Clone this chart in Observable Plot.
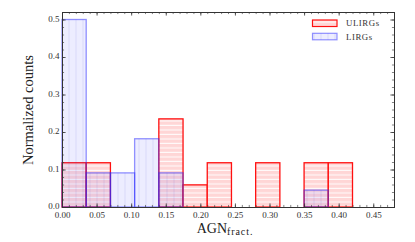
<!DOCTYPE html>
<html><head><meta charset="utf-8">
<script src="https://cdn.jsdelivr.net/npm/d3@7"></script>
<script src="https://cdn.jsdelivr.net/npm/@observablehq/plot@0.6"></script>
<style>
html,body{margin:0;padding:0;background:#fff;}
svg{display:block;}
</style></head><body><div id="chart"></div>
<script>
// Data
const binEdges = [0.000, 0.035, 0.070, 0.105, 0.140, 0.175, 0.210, 0.245, 0.280, 0.315, 0.350, 0.385, 0.420];
const ulirgs = [0.118, 0.118, 0, 0, 0.235, 0.059, 0.118, 0, 0.118, 0, 0.118, 0.118];
const lirgs  = [0.500, 0.091, 0.091, 0.182, 0.091, 0, 0, 0, 0, 0, 0.045, 0];
const seriesNames = ["ULIRGs", "LIRGs"];
const xTicks = [0.00, 0.05, 0.10, 0.15, 0.20, 0.25, 0.30, 0.35, 0.40, 0.45];
const xTickLabels = ["0.00", "0.05", "0.10", "0.15", "0.20", "0.25", "0.30", "0.35", "0.40", "0.45"];
const yTicks = [0.0, 0.1, 0.2, 0.3, 0.4, 0.5];
const yTickLabels = ["0.0", "0.1", "0.2", "0.3", "0.4", "0.5"];
const xLabel = "AGN", xLabelSub = "fract.";
const yLabel = "Normalized counts";

const xDomain = [0, 0.48], yDomain = [0, 0.52];
const xMinor = d3.range(0, 0.4801, 0.01);
const yMinor = d3.range(0, 0.5201, 0.02);

const toBars = (vals, name) => vals.map((v, i) => ({series: name, x1: binEdges[i], x2: binEdges[i + 1], y: v})).filter(d => d.y > 0);
const uBars = toBars(ulirgs, seriesNames[0]);
const lBars = toBars(lirgs, seriesNames[1]);

const tickColor = "#333";
const xMajLen = 0.0052, xMinLen = 0.003;
const yMajLenU = 0.0095, yMinLenU = 0.0055;

const chart = Plot.plot({
  width: 415, height: 242,
  marginLeft: 62, marginRight: 21, marginTop: 12, marginBottom: 35,
  x: {domain: xDomain},
  y: {domain: yDomain},
  style: {fontFamily: "'Liberation Serif', 'DejaVu Serif', serif", fontSize: "9px", color: "#333", background: "#fff"},
  marks: [
    Plot.rectY(uBars, {x1: "x1", x2: "x2", y: "y", fill: "url(#hatchU)", stroke: "#ff1010", strokeWidth: 1.3}),
    Plot.rectY(lBars, {x1: "x1", x2: "x2", y: "y", fill: "url(#hatchL)", stroke: "rgba(40,40,255,0.5)", strokeWidth: 1.3}),
    Plot.ruleX(xTicks, {x: d => d, y1: yDomain[0], y2: yDomain[0] + yMajLenU, stroke: tickColor, strokeWidth: 0.8}),
    Plot.ruleX(xTicks, {x: d => d, y1: yDomain[1], y2: yDomain[1] - yMajLenU, stroke: tickColor, strokeWidth: 0.8}),
    Plot.ruleX(xMinor, {x: d => d, y1: yDomain[0], y2: yDomain[0] + yMinLenU, stroke: tickColor, strokeWidth: 0.6}),
    Plot.ruleX(xMinor, {x: d => d, y1: yDomain[1], y2: yDomain[1] - yMinLenU, stroke: tickColor, strokeWidth: 0.6}),
    Plot.ruleY(yTicks, {y: d => d, x1: xDomain[0], x2: xDomain[0] + xMajLen, stroke: tickColor, strokeWidth: 0.8}),
    Plot.ruleY(yTicks, {y: d => d, x1: xDomain[1], x2: xDomain[1] - xMajLen, stroke: tickColor, strokeWidth: 0.8}),
    Plot.ruleY(yMinor, {y: d => d, x1: xDomain[0], x2: xDomain[0] + xMinLen, stroke: tickColor, strokeWidth: 0.6}),
    Plot.ruleY(yMinor, {y: d => d, x1: xDomain[1], x2: xDomain[1] - xMinLen, stroke: tickColor, strokeWidth: 0.6}),
    Plot.frame({stroke: "#333", strokeWidth: 1}),
    Plot.axisX({ticks: xTicks, tickFormat: d => xTickLabels[xTicks.indexOf(d)], tickSize: 0, tickPadding: 3.8, label: null, fontSize: 9}),
    Plot.axisY({ticks: yTicks, tickFormat: d => yTickLabels[yTicks.indexOf(d)], tickSize: 0, tickPadding: 3, label: null, fontSize: 9, dy: -1}),
    Plot.text([yLabel], {text: d => d, frameAnchor: "left", dx: -34, rotate: -90, fontSize: 14.5, fill: "#222", textAnchor: "middle", lineAnchor: "middle"})
  ]
});

const svg = d3.select(chart);
const defs = svg.insert("defs", ":first-child");
const pu = defs.append("pattern").attr("id", "hatchU").attr("patternUnits", "userSpaceOnUse").attr("width", 8).attr("height", 4.5);
pu.append("rect").attr("width", 8).attr("height", 4.5).attr("fill", "#ffd6d6");
pu.append("rect").attr("y", 3.4).attr("width", 8).attr("height", 1.1).attr("fill", "#ffffff").attr("opacity", 0.9);
const pl = defs.append("pattern").attr("id", "hatchL").attr("patternUnits", "userSpaceOnUse").attr("width", 7).attr("height", 8);
pl.append("rect").attr("width", 7).attr("height", 8).attr("fill", "rgba(60,60,255,0.09)");
pl.append("rect").attr("x", 5.5).attr("width", 1).attr("height", 8).attr("fill", "rgba(40,40,200,0.10)");

// x label with subscript
const xl = svg.append("text").attr("x", 225).attr("y", 232.5).attr("text-anchor", "middle")
  .attr("fill", "#222").style("font-family", "'Liberation Serif', serif");
xl.append("tspan").attr("font-size", 14).text(xLabel);
xl.append("tspan").attr("font-size", 10).attr("dy", 2.3).attr("letter-spacing", 0.9).text(xLabelSub);

// legend
const legend = [
  {name: seriesNames[0], fill: "url(#hatchU)", stroke: "#ff1010"},
  {name: seriesNames[1], fill: "url(#hatchL)", stroke: "rgba(40,40,255,0.5)"}
];
const lg = svg.append("g").attr("text-anchor", "start");
legend.forEach((d, i) => {
  const y0 = 20 + i * 13.3;
  lg.append("rect").attr("x", 312.5).attr("y", y0).attr("width", 24.5).attr("height", 6.5)
    .attr("fill", d.fill).attr("stroke", d.stroke).attr("stroke-width", 1.2);
  lg.append("text").attr("x", 346).attr("y", y0 + 6.3).attr("font-size", 8.8).attr("letter-spacing", 0.55)
    .attr("text-anchor", "start")
    .attr("fill", "#333").style("font-family", "'Liberation Serif', serif").text(d.name);
});

document.getElementById("chart").appendChild(chart);
</script>
</body></html>
